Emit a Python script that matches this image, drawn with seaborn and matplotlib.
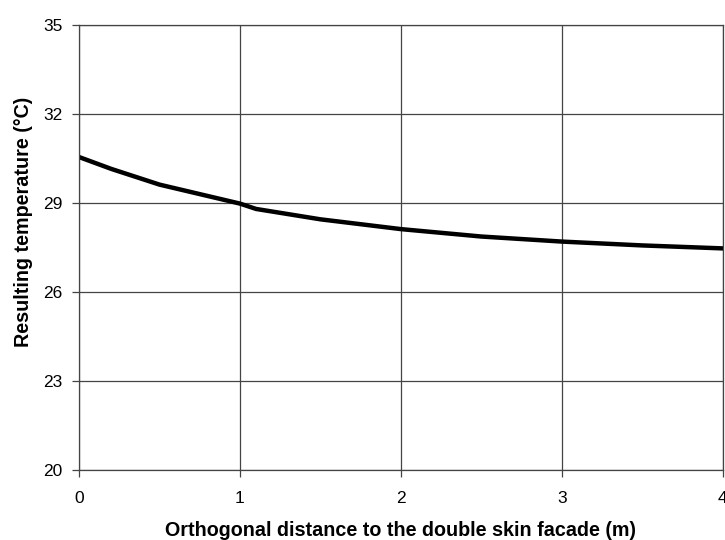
import matplotlib
matplotlib.use("Agg")
import matplotlib.pyplot as plt
import seaborn as sns
import pandas as pd

distance = [0.0, 0.2, 0.5, 1.0, 1.1, 1.5, 2.0, 2.5, 3.0, 3.5, 4.0]
temperature = [30.55, 30.15, 29.62, 28.98, 28.80, 28.45, 28.12, 27.87, 27.70, 27.57, 27.47]
x_ticks = [0, 1, 2, 3, 4]
y_ticks = [20, 23, 26, 29, 32, 35]

sns.set_style("white")
plt.rcParams['font.family'] = ['Liberation Sans', 'DejaVu Sans']
plt.rcParams['text.color'] = 'black'
plt.rcParams['axes.labelcolor'] = 'black'
plt.rcParams['xtick.color'] = 'black'
plt.rcParams['ytick.color'] = 'black'

df = pd.DataFrame({"distance": distance, "temperature": temperature})

fig = plt.figure(figsize=(7.25, 5.4), dpi=100)
ax = fig.add_axes([0.109, 0.1296, 0.888, 0.8241])
sns.lineplot(data=df, x="distance", y="temperature", color="black", linewidth=3.2, ax=ax)

ax.set_xlim(0, 4)
ax.set_ylim(20, 35)
ax.set_xticks(x_ticks)
ax.set_yticks(y_ticks)
ax.set_xticklabels([str(t) for t in x_ticks])
ax.set_yticklabels([str(t) for t in y_ticks])
ax.grid(True, color="#444444", linewidth=0.9)
ax.set_axisbelow(True)
for s in ax.spines.values():
    s.set_color("#444444")
    s.set_linewidth(0.9)
ax.tick_params(axis="both", direction="out", length=5, width=0.9, color="#444444",
               labelcolor="black", labelsize=12.5, bottom=True, left=True)
ax.tick_params(axis="x", pad=10)
ax.tick_params(axis="y", pad=7)
ax.set_xlabel("Orthogonal distance to the double skin facade (m)", fontsize=14.2,
              fontweight="bold", va="center")
ax.set_ylabel("Resulting temperature (°C)", fontsize=14.2, fontweight="bold", va="center")
ax.xaxis.set_label_coords(0.5, -0.137)
ax.yaxis.set_label_coords(-0.087, 0.557)

fig.savefig("out.png", dpi=100)
